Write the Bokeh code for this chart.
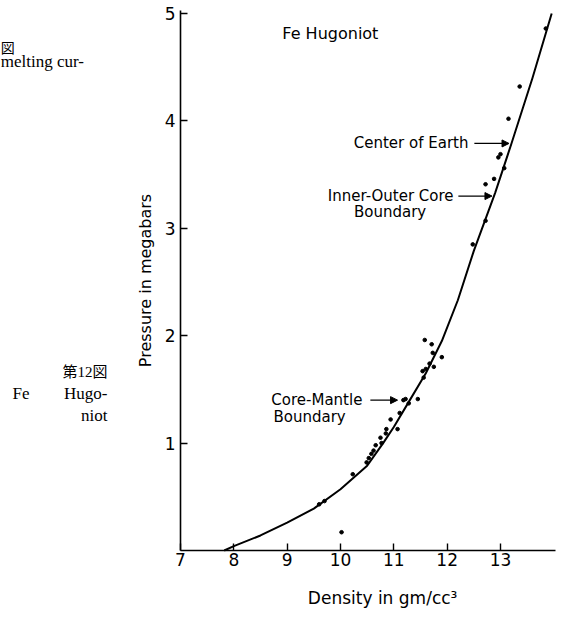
import numpy as np
from bokeh.plotting import figure
from bokeh.models import Range1d, FixedTicker, Label, Arrow, NormalHead, LinearAxis
from bokeh.core.properties import value
from bokeh.embed import file_html
from bokeh.resources import INLINE

# Fe Hugoniot: density (gm/cc) vs pressure (megabars)
curve_density = [7.82, 8.0, 8.5, 9.0, 9.5, 10.0, 10.5, 10.8, 11.0, 11.3,
                 11.6, 11.9, 12.2, 12.5, 12.7, 12.9, 13.2, 13.6, 13.96]
curve_pressure = [0.0, 0.04, 0.14, 0.26, 0.39, 0.57, 0.79, 1.0, 1.15, 1.4,
                  1.65, 1.95, 2.33, 2.79, 3.06, 3.33, 3.78, 4.4, 5.0]

# shock-wave measurements
dot_density = [13.85, 13.36, 13.15, 13.0, 12.96, 13.07, 12.72, 12.88, 12.72, 12.48,
               11.58, 11.71, 11.73, 11.9, 11.54, 11.6, 11.67, 11.75, 11.56,
               11.22, 11.18, 11.45, 11.28, 11.11, 10.94, 10.86, 10.85, 11.07,
               10.75, 10.77, 10.66, 10.62, 10.58, 10.53, 10.49, 10.23,
               9.6, 9.7, 10.02]
dot_pressure = [4.86, 4.32, 4.02, 3.69, 3.66, 3.56, 3.41, 3.46, 3.07, 2.85,
                1.96, 1.92, 1.84, 1.80, 1.67, 1.69, 1.74, 1.71, 1.61,
                1.41, 1.40, 1.41, 1.37, 1.28, 1.22, 1.13, 1.09, 1.13,
                1.05, 1.0, 0.98, 0.93, 0.90, 0.86, 0.82, 0.71,
                0.43, 0.46, 0.17]

x_ticks = [7, 8, 9, 10, 11, 12, 13]
y_ticks = [1, 2, 3, 4, 5]

# boundary markers: label, label right edge (x, y), arrow start/end x,
# optional second line centred at (x, y)
markers = [
    ("Center of Earth", 12.40, 3.79, 12.51, 13.16, None),
    ("Inner-Outer Core", 12.12, 3.30, 12.21, 12.84, ("Boundary", 10.93, 3.15)),
    ("Core-Mantle", 10.41, 1.40, 10.56, 11.07, ("Boundary", 9.42, 1.24)),
]

SANS = "DejaVu Sans"
SERIF = "Liberation Serif, 'Noto Sans CJK JP'"

# the frame fills the page; the axes sit at density 7 and pressure 0
p = figure(width=565, height=617, x_range=Range1d(3.625, 14.219), y_range=Range1d(-0.624, 5.121),
           output_backend="svg", toolbar_location=None,
           x_axis_location=None, y_axis_location=None, min_border=0,
           min_border_left=0, min_border_right=0, min_border_top=0, min_border_bottom=0)
p.outline_line_color = None
p.xgrid.visible = False
p.ygrid.visible = False
p.background_fill_color = "white"
p.border_fill_color = "white"

xaxis = LinearAxis(fixed_location=0, bounds=(7, 14.03), ticker=FixedTicker(ticks=x_ticks))
yaxis = LinearAxis(fixed_location=7, bounds=(0, 5.03), ticker=FixedTicker(ticks=y_ticks))
for ax in (xaxis, yaxis):
    ax.major_tick_in = 7
    ax.major_tick_out = 0
    ax.minor_tick_line_color = None
    ax.axis_line_width = 1.6
    ax.axis_line_color = "black"
    ax.major_tick_line_width = 1.4
    ax.major_tick_line_color = "black"
    ax.major_label_text_font = SANS
    ax.major_label_text_font_size = "17px"
    ax.major_label_text_color = "black"
xaxis.major_label_standoff = 3
yaxis.major_label_standoff = 5

yaxis.axis_label = "Pressure in megabars"
yaxis.axis_label_text_font = SANS
yaxis.axis_label_text_font_size = "16px"
yaxis.axis_label_text_font_style = "normal"
yaxis.axis_label_text_color = "black"
yaxis.axis_label_standoff = 7

p.add_layout(xaxis, "below")
p.add_layout(yaxis, "left")

p.add_layout(Label(x=10.79, y=-0.44, text="Density in gm/cc\u00b3",
                   text_align="center", text_baseline="middle",
                   text_font=SANS, text_font_size="17px", text_color="black"))

p.line(curve_density, curve_pressure, line_width=2.0, line_color="black", line_join="round")
p.scatter(dot_density, dot_pressure, size=3.6, color="black")

p.add_layout(Label(x=8.91, y=4.81, text="Fe Hugoniot", text_align="left", text_baseline="middle",
                   text_font=SANS, text_font_size="16px", text_color="black"))

for text, lx, ly, ax0, ax1, second in markers:
    p.add_layout(Label(x=lx, y=ly, text=text, text_align="right", text_baseline="middle",
                       text_font=SANS, text_font_size="15px", text_color="black"))
    if second is not None:
        t2, x2, y2 = second
        p.add_layout(Label(x=x2, y=y2, text=t2, text_align="center", text_baseline="middle",
                           text_font=SANS, text_font_size="15px", text_color="black"))
    p.add_layout(Arrow(x_start=ax0, y_start=ly, x_end=ax1, y_end=ly, line_width=1.2,
                       line_color="black",
                       end=NormalHead(size=7, fill_color="black", line_color="black")))

# caption text set beside the figure (density, pressure of the text baseline)
captions = [
    ("\u56f3", 3.63, 4.67, "left", 14),
    ("melting cur-", 3.63, 4.55, "left", 17),
    ("\u7b2c12\u56f3", 5.63, 1.66, "right", 15),
    ("Fe", 3.85, 1.46, "left", 17),
    ("Hugo-", 5.63, 1.46, "right", 17),
    ("niot", 5.63, 1.26, "right", 17),
]
for txt, cx, cy, align, size in captions:
    p.add_layout(Label(x=cx, y=cy, text=txt,
                       text_align=align, text_baseline="alphabetic",
                       text_font=SERIF, text_font_size=f"{size}px", text_color="black"))

open("out.html", "w").write(file_html(p, INLINE))
